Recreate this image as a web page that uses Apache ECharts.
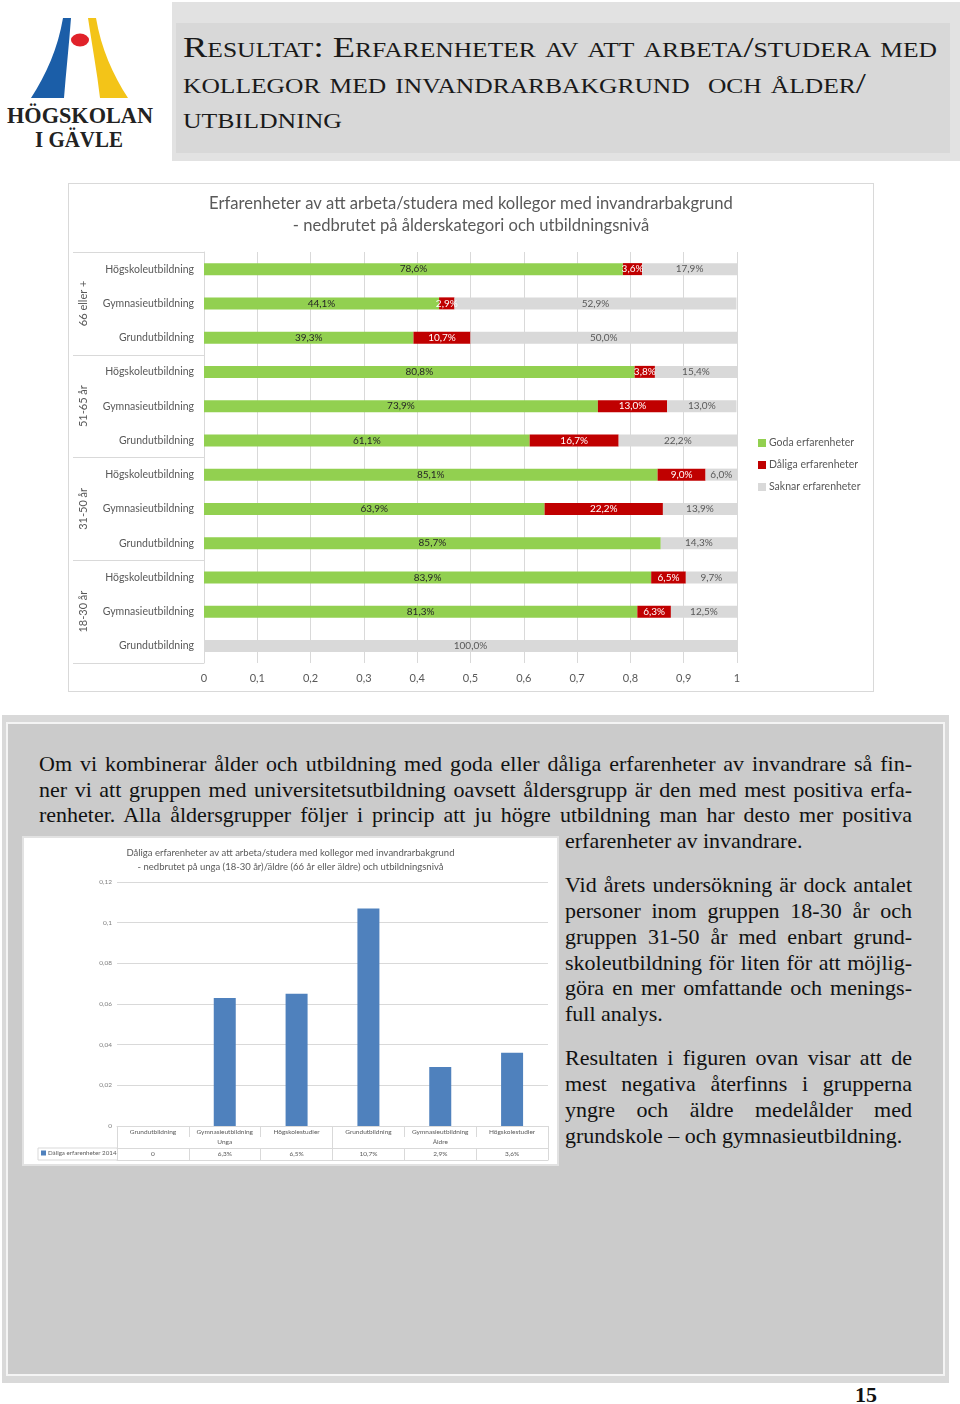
<!DOCTYPE html>
<html><head><meta charset="utf-8">
<script src="https://cdn.jsdelivr.net/npm/echarts/dist/echarts.min.js"></script>
<style>
html,body{margin:0;padding:0;background:#fff;}
body{width:960px;height:1404px;position:relative;overflow:hidden;}
.abs{position:absolute;}
.hdr{position:absolute;left:183px;font-family:'Liberation Serif','Times New Roman',serif;font-size:30px;line-height:36px;font-variant:small-caps;color:#1a1a1a;white-space:nowrap;}
.ln{position:absolute;font-family:'Liberation Serif','Times New Roman',serif;font-size:22px;line-height:26px;color:#111;white-space:nowrap;}
</style>
</head><body>

<svg class="abs" style="left:0;top:0" width="165" height="160">
  <path d="M63,18 L71,18 C69,45 66,72 64,98 L31,98 C46,75 58,48 63,18 Z" fill="#1b5ea8"/>
  <path d="M88,18 L96,18 C101,48 113,75 128,98 L100,98 C97,72 92,45 88,18 Z" fill="#f3c418"/>
  <ellipse cx="80" cy="40" rx="9" ry="6.5" fill="#e0222a"/>
  <text x="80" y="123" text-anchor="middle" font-family="Liberation Serif" font-weight="bold" font-size="23" textLength="146" lengthAdjust="spacingAndGlyphs" fill="#222">HÖGSKOLAN</text>
  <text x="79" y="147" text-anchor="middle" font-family="Liberation Serif" font-weight="bold" font-size="23" textLength="88" lengthAdjust="spacingAndGlyphs" fill="#222">I GÄVLE</text>
</svg>

<div class="abs" style="left:172px;top:2px;width:788px;height:159px;background:#e2e2e2"></div>
<div class="abs" style="left:176px;top:23px;width:774px;height:130px;background:#d8d8d8"></div>
<div class="hdr" id="h1" style="top:29px">Resultat: Erfarenheter av att arbeta/studera med</div>
<div class="hdr" id="h2" style="top:65px">kollegor med invandrarbakgrund&nbsp; och ålder/</div>
<div class="hdr" id="h3" style="top:100px">utbildning</div>

<div class="abs" style="left:68px;top:183px;width:806px;height:509px;border:1px solid #d9d9d9;box-sizing:border-box"></div>
<div class="abs" id="c1" style="left:69px;top:184px;width:804px;height:507px"></div>

<div class="abs" style="left:2px;top:715px;width:947px;height:668px;background:#d9d9d9"></div>
<div class="abs" style="left:6px;top:722px;width:935px;height:650px;border:2px solid #f4f4f4;background:#cbcbcb"></div>

<div class="ln j" data-w="873" style="left:39px;top:751px">Om vi kombinerar ålder och utbildning med goda eller dåliga erfarenheter av invandrare så fin-</div>
<div class="ln j" data-w="873" style="left:39px;top:777px">ner vi att gruppen med universitetsutbildning oavsett åldersgrupp är den med mest positiva erfa-</div>
<div class="ln j" data-w="873" style="left:39px;top:802px">renheter. Alla åldersgrupper följer i princip att ju högre utbildning man har desto mer positiva</div>
<div class="ln" style="left:565px;top:828px">erfarenheter av invandrare.</div>

<div class="ln j" data-w="347" style="left:565px;top:872px">Vid årets undersökning är dock antalet</div>
<div class="ln j" data-w="347" style="left:565px;top:898px">personer inom gruppen 18-30 år och</div>
<div class="ln j" data-w="347" style="left:565px;top:924px">gruppen 31-50 år med enbart grund-</div>
<div class="ln j" data-w="347" style="left:565px;top:950px">skoleutbildning för liten för att möjlig-</div>
<div class="ln j" data-w="347" style="left:565px;top:975px">göra en mer omfattande och menings-</div>
<div class="ln" style="left:565px;top:1001px">full analys.</div>

<div class="ln j" data-w="347" style="left:565px;top:1045px">Resultaten i figuren ovan visar att de</div>
<div class="ln j" data-w="347" style="left:565px;top:1071px">mest negativa återfinns i grupperna</div>
<div class="ln j" data-w="347" style="left:565px;top:1097px">yngre och äldre medelålder med</div>
<div class="ln" style="left:565px;top:1123px">grundskole – och gymnasieutbildning.</div>

<div class="abs" style="left:22px;top:836px;width:537px;height:330px;border:2px solid #e2e2e2;box-sizing:border-box;background:#fff"></div>
<div class="abs" id="c2" style="left:24px;top:838px;width:533px;height:326px"></div>

<div class="abs" style="left:836px;top:1382px;width:60px;text-align:center;font-family:'Liberation Serif',serif;font-weight:bold;font-size:22px;line-height:26px;color:#111">15</div>

<script>
// ---------- data: main chart (rows bottom -> top) ----------
const ageGroups = ['18-30 år', '31-50 år', '51-65 år', '66 eller +'];
const eduLevels = ['Grundutbildning', 'Gymnasieutbildning', 'Högskoleutbildning'];
const seriesNames = ['Goda erfarenheter', 'Dåliga erfarenheter', 'Saknar erfarenheter'];
const goda   = [0.0, 81.3, 83.9, 85.7, 63.9, 85.1, 61.1, 73.9, 80.8, 39.3, 44.1, 78.6];
const daliga = [0.0, 6.3, 6.5, 0.0, 22.2, 9.0, 16.7, 13.0, 3.8, 10.7, 2.9, 3.6];
const saknar = [100.0, 12.5, 9.7, 14.3, 13.9, 6.0, 22.2, 13.0, 15.4, 50.0, 52.9, 17.9];
const xTickLabels = ['0', '0,1', '0,2', '0,3', '0,4', '0,5', '0,6', '0,7', '0,8', '0,9', '1'];

// ---------- data: inset chart ----------
const insetCats = ['Grundutbildning', 'Gymnasieutbildning', 'Högskolestudier', 'Grundutbildning', 'Gymnasieutbildning', 'Högskolestudier'];
const insetGroups = ['Unga', 'Äldre'];
const insetValues = [0, 0.063, 0.065, 0.107, 0.029, 0.036];
const insetTickLabels = ['0', '0,02', '0,04', '0,06', '0,08', '0,1', '0,12'];
const insetSeriesName = 'Dåliga erfarenheter 2014';

// ---------- text fitting ----------
document.querySelectorAll('.j').forEach(el => {
  const target = +el.dataset.w;
  const w = el.getBoundingClientRect().width;
  const n = (el.textContent.match(/ /g) || []).length;
  el.style.wordSpacing = ((target - w) / n) + 'px';
});
[['h1', 754], ['h2', 683], ['h3', 159]].forEach(([id, t]) => {
  const el = document.getElementById(id);
  const w = el.getBoundingClientRect().width;
  el.style.transformOrigin = '0 0';
  el.style.transform = 'scaleX(' + (t / w) + ')';
});

const FONT = 'Lato, "Open Sans", sans-serif';
const pct = v => v.toFixed(1).replace('.', ',') + '%';

// ---------- main chart ----------
const rowKeys = [];
ageGroups.forEach(g => eduLevels.forEach(l => rowKeys.push(g + '|' + l)));
const labelColors = ['#262626', '#ffffff', '#595959'];
const barColors = ['#92d050', '#c00000', '#d9d9d9'];
const c1 = echarts.init(document.getElementById('c1'));
c1.setOption({
  animation: false,
  textStyle: { fontFamily: FONT },
  title: {
    text: 'Erfarenheter av att arbeta/studera med kollegor med invandrarbakgrund\n- nedbrutet på ålderskategori och utbildningsnivå',
    left: 'center', top: 9, padding: 0,
    textStyle: { fontSize: 16.6, lineHeight: 22, fontWeight: 'normal', color: '#595959', fontFamily: FONT }
  },
  legend: {
    orient: 'vertical', left: 689, top: 253, padding: 0, itemWidth: 8, itemHeight: 8, itemGap: 10, icon: 'rect',
    textStyle: { fontSize: 10.5, color: '#595959', lineHeight: 12, fontFamily: FONT, padding: [0, 0, 0, -2] },
    data: seriesNames
  },
  grid: { left: 135, right: 136, top: 68, bottom: 28, containLabel: false, outerBoundsMode: 'none' },
  xAxis: {
    type: 'value', min: 0, max: 100, interval: 10,
    axisLine: { show: false }, axisTick: { show: false },
    splitLine: { show: true, lineStyle: { color: '#d9d9d9', width: 1 } },
    axisLabel: { margin: 10, fontSize: 11, color: '#595959', fontFamily: FONT, formatter: v => xTickLabels[Math.round(v / 10)] }
  },
  yAxis: [
    {
      type: 'category', data: rowKeys,
      axisLine: { show: false }, axisTick: { show: false }, splitLine: { show: false },
      axisLabel: { interval: 0, margin: 10, fontSize: 10.5, color: '#595959', fontFamily: FONT, formatter: v => v.split('|')[1] }
    },
    {
      type: 'category', data: ageGroups, position: 'left', offset: 0,
      axisLine: { show: true, lineStyle: { color: '#d9d9d9' } },
      axisTick: { show: true, interval: 0, length: 131, lineStyle: { color: '#d9d9d9' } },
      splitLine: { show: false },
      axisLabel: { interval: 0, rotate: 90, margin: 115, fontSize: 11, color: '#595959', fontFamily: FONT }
    }
  ],
  series: [goda, daliga, saknar].map((d, i) => ({
    name: seriesNames[i], type: 'bar', stack: 'total', yAxisIndex: 0, barWidth: 12,
    itemStyle: { color: barColors[i] },
    label: {
      show: true, position: 'inside', fontSize: 10, color: labelColors[i], fontFamily: FONT,
      formatter: p => (p.value > 0 ? pct(p.value) : '')
    },
    data: d
  }))
});

// ---------- inset chart ----------
const insetKeys = insetCats.map((c, i) => i + '|' + c);
const insetTable = insetValues.map(v => (v === 0 ? '0' : pct(v * 100)));
const c2 = echarts.init(document.getElementById('c2'));
const LC = '#d9d9d9';
c2.setOption({
  animation: false,
  textStyle: { fontFamily: FONT },
  title: {
    text: 'Dåliga erfarenheter av att arbeta/studera med kollegor med invandrarbakgrund\n- nedbrutet på unga (18-30 år)/äldre (66 år eller äldre) och utbildningsnivå',
    left: 'center', top: 8, padding: 0,
    textStyle: { fontSize: 9.5, lineHeight: 14, fontWeight: 'normal', color: '#595959', fontFamily: FONT }
  },
  legend: {
    left: 17, top: 312, padding: 0, itemWidth: 5, itemHeight: 5, icon: 'rect', itemGap: 2,
    textStyle: { fontSize: 6.2, color: '#595959', fontFamily: FONT, padding: [0, 0, 0, -3] },
    data: [insetSeriesName]
  },
  grid: { left: 93, right: 9, top: 44, bottom: 38, containLabel: false, outerBoundsMode: 'none' },
  yAxis: {
    type: 'value', min: 0, max: 0.12, interval: 0.02,
    axisLine: { show: false }, axisTick: { show: false },
    splitLine: { lineStyle: { color: LC } },
    axisLabel: { margin: 5, fontSize: 6.5, color: '#7f7f7f', fontFamily: FONT, formatter: v => insetTickLabels[Math.round(v / 0.02)] }
  },
  xAxis: [
    {
      type: 'category', data: insetKeys, position: 'bottom',
      axisLine: { show: true, lineStyle: { color: LC } },
      axisTick: { show: true, interval: 0, length: 11, lineStyle: { color: LC } },
      axisLabel: { interval: 0, margin: 2, fontSize: 6.5, color: '#595959', fontFamily: FONT, formatter: v => v.split('|')[1] }
    },
    {
      type: 'category', data: insetGroups, position: 'bottom', offset: 0,
      axisLine: { show: false },
      axisTick: { show: true, interval: 0, length: 22, lineStyle: { color: LC } },
      axisLabel: { interval: 0, margin: 12, fontSize: 6.5, color: '#595959', fontFamily: FONT }
    },
    {
      type: 'category', data: insetTable, position: 'bottom', offset: 22,
      axisLine: { show: true, lineStyle: { color: LC } },
      axisTick: { show: true, interval: 0, length: 12, lineStyle: { color: LC } },
      axisLabel: { interval: 0, margin: 2, fontSize: 6.5, color: '#595959', fontFamily: FONT }
    },
    {
      type: 'category', data: [''], position: 'bottom', offset: 34,
      axisLine: { show: true, lineStyle: { color: LC } },
      axisTick: { show: false }, axisLabel: { show: false }
    }
  ],
  graphic: [
    { type: 'polyline', shape: { points: [[93, 310], [14, 310], [14, 322], [93, 322]] }, style: { stroke: LC, fill: null, lineWidth: 1 } }
  ],
  series: [{
    name: insetSeriesName, type: 'bar', xAxisIndex: 0, barWidth: 22,
    itemStyle: { color: '#4f81bd' },
    data: insetValues
  }]
});
</script>
</body></html>
